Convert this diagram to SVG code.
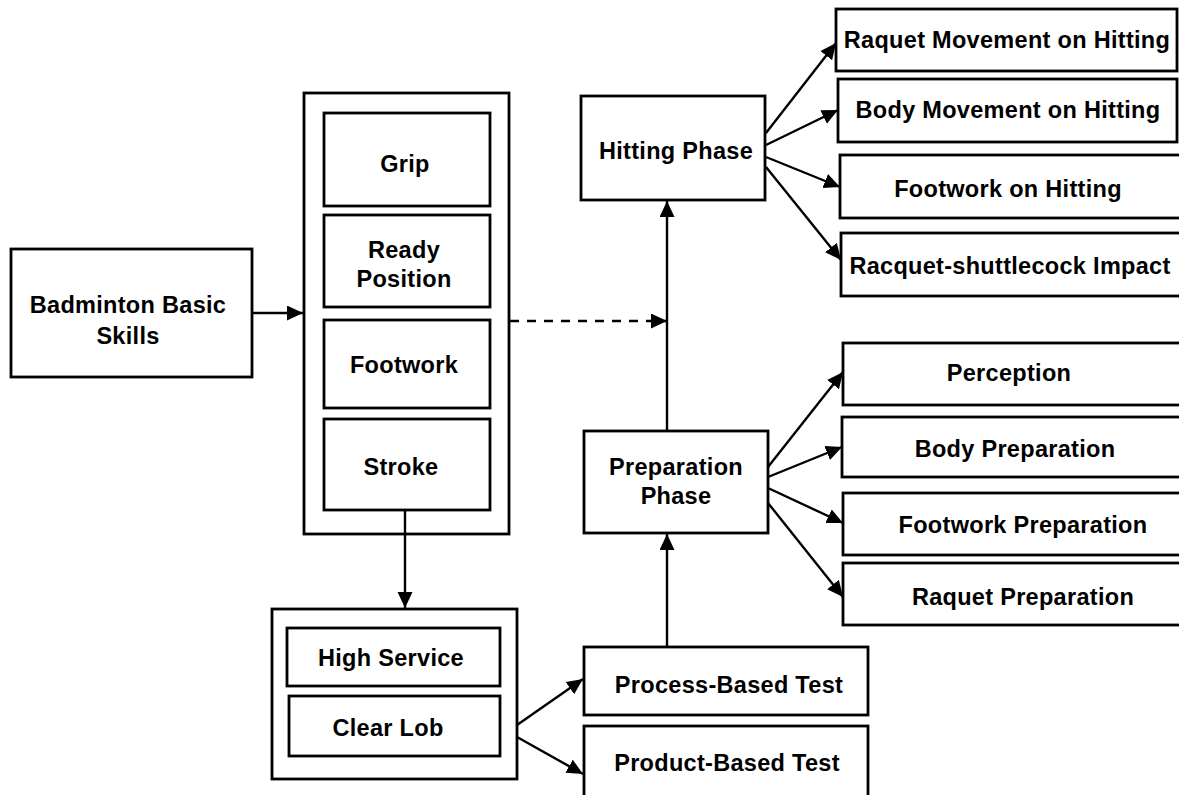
<svg xmlns="http://www.w3.org/2000/svg" width="1179" height="795" viewBox="0 0 1179 795">
<style>
.box{fill:#fff;stroke:#000;stroke-width:2.8}
.t{font-family:"Liberation Sans",Arial,sans-serif;font-weight:bold;font-size:23.5px;letter-spacing:0.3px;fill:#000;text-anchor:middle}
.c{fill:none;stroke:#000;stroke-width:2.4}
.d{stroke-dasharray:9 8}
</style>
<defs>
<marker id="ah" markerUnits="userSpaceOnUse" markerWidth="18" markerHeight="16" refX="16" refY="7.5" orient="auto">
<path d="M0,0 L16,7.5 L0,15 Z" fill="#000"/>
</marker>
</defs>
<rect width="1179" height="795" fill="#fff"/>

<g id="badminton-basic-skills">
<rect class="box" x="11" y="249" width="241" height="128"/>
<text class="t" x="128" y="313">Badminton Basic</text>
<text class="t" x="128" y="344">Skills</text>
</g>

<g id="skills-column">
<rect class="box" x="304" y="93" width="205" height="441"/>
</g>
<g id="grip">
<rect class="box" x="324" y="113" width="166" height="93"/>
<text class="t" x="405" y="172">Grip</text>
</g>
<g id="ready-position">
<rect class="box" x="324" y="215" width="166" height="92"/>
<text class="t" x="404" y="258">Ready</text>
<text class="t" x="404" y="287">Position</text>
</g>
<g id="footwork">
<rect class="box" x="324" y="320" width="166" height="88"/>
<text class="t" x="404" y="373">Footwork</text>
</g>
<g id="stroke">
<rect class="box" x="324" y="419" width="166" height="91"/>
<text class="t" x="401" y="475">Stroke</text>
</g>

<g id="service-group">
<rect class="box" x="272" y="609" width="245" height="170"/>
</g>
<g id="high-service">
<rect class="box" x="287" y="628" width="213" height="58"/>
<text class="t" x="391" y="666">High Service</text>
</g>
<g id="clear-lob">
<rect class="box" x="289" y="696" width="211" height="60"/>
<text class="t" x="388" y="736">Clear Lob</text>
</g>

<g id="process-based-test">
<rect class="box" x="584" y="647" width="284" height="68"/>
<text class="t" x="729" y="693">Process-Based Test</text>
</g>
<g id="product-based-test">
<rect class="box" x="584" y="726" width="284" height="80"/>
<text class="t" x="727" y="771">Product-Based Test</text>
</g>

<g id="preparation-phase">
<rect class="box" x="584" y="431" width="184" height="102"/>
<text class="t" x="676" y="475">Preparation</text>
<text class="t" x="676" y="504">Phase</text>
</g>

<g id="hitting-phase">
<rect class="box" x="581" y="96" width="184" height="104"/>
<text class="t" x="676" y="159">Hitting Phase</text>
</g>

<g id="raquet-movement">
<rect class="box" x="836" y="9" width="341" height="62"/>
<text class="t" x="1007" y="48">Raquet Movement on Hitting</text>
</g>
<g id="body-movement">
<rect class="box" x="838" y="79" width="339" height="63"/>
<text class="t" x="1008" y="118">Body Movement on Hitting</text>
</g>
<g id="footwork-hitting">
<rect class="box" x="840" y="155" width="345" height="63"/>
<text class="t" x="1008" y="197">Footwork on Hitting</text>
</g>
<g id="impact">
<rect class="box" x="841" y="233" width="345" height="63"/>
<text class="t" x="1010" y="274">Racquet-shuttlecock Impact</text>
</g>

<g id="perception">
<rect class="box" x="843" y="343" width="345" height="62"/>
<text class="t" x="1009" y="381">Perception</text>
</g>
<g id="body-preparation">
<rect class="box" x="842" y="417" width="345" height="60"/>
<text class="t" x="1015" y="457">Body Preparation</text>
</g>
<g id="footwork-preparation">
<rect class="box" x="843" y="493" width="345" height="62"/>
<text class="t" x="1023" y="533">Footwork Preparation</text>
</g>
<g id="raquet-preparation">
<rect class="box" x="843" y="563" width="345" height="62"/>
<text class="t" x="1023" y="605">Raquet Preparation</text>
</g>

<g id="connectors">
<line class="c" x1="252" y1="313" x2="303" y2="313" marker-end="url(#ah)"/>
<line class="c d" x1="510" y1="321" x2="667" y2="321" marker-end="url(#ah)"/>
<line class="c" x1="405" y1="510" x2="405" y2="608" marker-end="url(#ah)"/>
<line class="c" x1="517" y1="725" x2="583" y2="679" marker-end="url(#ah)"/>
<line class="c" x1="517" y1="737" x2="583" y2="774" marker-end="url(#ah)"/>
<line class="c" x1="667" y1="647" x2="667" y2="534" marker-end="url(#ah)"/>
<line class="c" x1="667" y1="431" x2="667" y2="201" marker-end="url(#ah)"/>
<line class="c" x1="766" y1="133" x2="836" y2="43" marker-end="url(#ah)"/>
<line class="c" x1="766" y1="145" x2="838" y2="110" marker-end="url(#ah)"/>
<line class="c" x1="766" y1="157" x2="840" y2="187" marker-end="url(#ah)"/>
<line class="c" x1="766" y1="167" x2="841" y2="260" marker-end="url(#ah)"/>
<line class="c" x1="768" y1="467" x2="843" y2="372" marker-end="url(#ah)"/>
<line class="c" x1="768" y1="477" x2="842" y2="447" marker-end="url(#ah)"/>
<line class="c" x1="768" y1="488" x2="843" y2="523" marker-end="url(#ah)"/>
<line class="c" x1="768" y1="503" x2="843" y2="597" marker-end="url(#ah)"/>
</g>
</svg>
